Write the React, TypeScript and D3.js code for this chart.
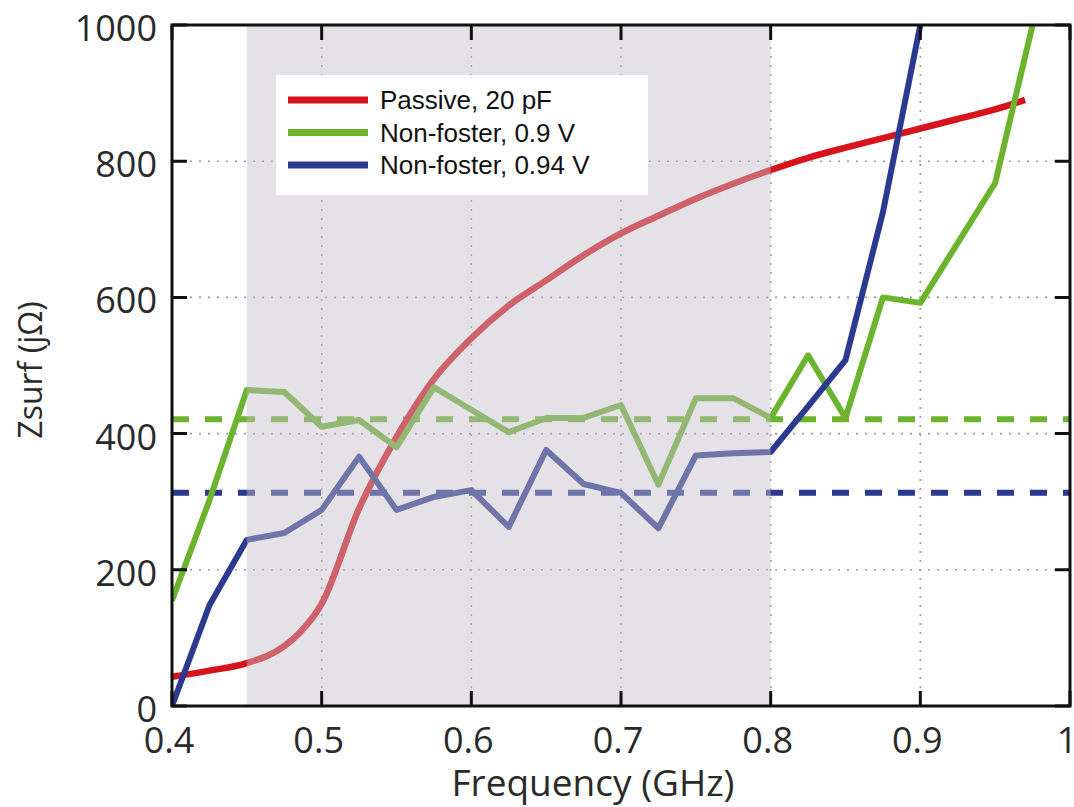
import React, { useRef, useEffect } from 'react'
import * as d3 from 'd3'

// data
const freqStep = [
  0.4, 0.425, 0.45, 0.475, 0.5, 0.525, 0.55, 0.575, 0.6, 0.625, 0.65, 0.675,
  0.7, 0.725, 0.75, 0.775, 0.8, 0.825, 0.85, 0.875, 0.9, 0.925, 0.95, 0.975,
]
const greenVals = [
  155, 302, 464, 461, 410, 420, 380, 468, 435, 402, 423, 423, 442, 325, 452,
  452, 423, 515, 423, 600, 592, 680, 768, 1000,
]
const blueVals = [
  0, 148, 244, 254, 288, 366, 288, 307, 317, 263, 376, 326, 313, 261, 368, 371,
  373, 440, 508, 725, 1000,
]
const redFreq = [
  0.4, 0.425, 0.45, 0.475, 0.485, 0.5, 0.525, 0.55, 0.575, 0.6, 0.625, 0.65,
  0.675, 0.7, 0.725, 0.75, 0.775, 0.8, 0.825, 0.85, 0.875, 0.9, 0.925, 0.95,
  0.97,
]
const redVals = [
  43, 52, 63, 88, 107, 150, 290, 395, 480, 540, 588, 625, 662, 694, 720, 745,
  767, 787, 805, 820, 834, 848, 862, 876, 890,
]
const greenMean = 421
const blueMean = 313
const band = [0.45, 0.8]
const xTicks = [0.4, 0.5, 0.6, 0.7, 0.8, 0.9, 1]
const yTicks = [0, 200, 400, 600, 800, 1000]
const legendItems = [
  { label: 'Passive, 20 pF', color: '#d7141d' },
  { label: 'Non-foster, 0.9 V', color: '#6cb32e' },
  { label: 'Non-foster, 0.94 V', color: '#2c3990' },
]

export default function App() {
  const svgRef = useRef(null)

  useEffect(() => {
    const svg = d3.select(svgRef.current)
    svg.selectAll('*').remove()

    const x = d3.scaleLinear().domain([0.4, 1]).range([172, 1070])
    const y = d3.scaleLinear().domain([0, 1000]).range([706, 25])
    const font = "'Open Sans', sans-serif"

    svg.append('defs').append('clipPath').attr('id', 'plotclip')
      .append('rect')
      .attr('x', x(0.4)).attr('y', y(1000))
      .attr('width', x(1) - x(0.4)).attr('height', y(0) - y(1000))

    svg.append('rect').attr('width', 1074).attr('height', 807).attr('fill', '#fff')

    // grid
    const grid = svg.append('g')
    grid.selectAll('.vg')
      .data(xTicks.slice(1, -1))
      .join('line')
      .attr('x1', (d) => x(d)).attr('x2', (d) => x(d))
      .attr('y1', y(0)).attr('y2', y(1000))
      .attr('stroke', '#9a9a9a').attr('stroke-width', 1.6)
      .attr('stroke-dasharray', '2,7')
    grid.selectAll('.hg')
      .data(yTicks.slice(1, -1))
      .join('line')
      .attr('y1', (d) => y(d)).attr('y2', (d) => y(d))
      .attr('x1', x(0.4)).attr('x2', x(1))
      .attr('stroke', '#9a9a9a').attr('stroke-width', 1.6)
      .attr('stroke-dasharray', '2,7')

    const plot = svg.append('g').attr('clip-path', 'url(#plotclip)')

    // dashed mean lines
    plot.append('line')
      .attr('x1', x(0.4)).attr('x2', x(1))
      .attr('y1', y(greenMean)).attr('y2', y(greenMean))
      .attr('stroke', legendItems[1].color).attr('stroke-width', 6)
      .attr('stroke-dasharray', '17,16')
    plot.append('line')
      .attr('x1', x(0.4)).attr('x2', x(1))
      .attr('y1', y(blueMean)).attr('y2', y(blueMean))
      .attr('stroke', legendItems[2].color).attr('stroke-width', 6)
      .attr('stroke-dasharray', '17,16')

    const line = d3.line().x((d) => x(d[0])).y((d) => y(d[1]))
    const smooth = d3.line().x((d) => x(d[0])).y((d) => y(d[1])).curve(d3.curveMonotoneX)

    plot.append('path')
      .attr('d', smooth(redFreq.map((f, i) => [f, redVals[i]])))
      .attr('fill', 'none').attr('stroke', legendItems[0].color)
      .attr('stroke-width', 6.5).attr('stroke-linejoin', 'round')
    plot.append('path')
      .attr('d', line(greenVals.map((v, i) => [freqStep[i], v])))
      .attr('fill', 'none').attr('stroke', legendItems[1].color)
      .attr('stroke-width', 6).attr('stroke-linejoin', 'round')
    plot.append('path')
      .attr('d', line(blueVals.map((v, i) => [freqStep[i], v])))
      .attr('fill', 'none').attr('stroke', legendItems[2].color)
      .attr('stroke-width', 6).attr('stroke-linejoin', 'round')

    // shaded band drawn over the lines
    svg.append('rect')
      .attr('x', x(band[0])).attr('y', y(1000))
      .attr('width', x(band[1]) - x(band[0])).attr('height', y(0) - y(1000))
      .attr('fill', '#c4bfc8').attr('opacity', 0.45)

    // legend
    const lg = svg.append('g')
    lg.append('rect')
      .attr('x', 276).attr('y', 75).attr('width', 372).attr('height', 120)
      .attr('fill', '#fff')
    legendItems.forEach((it, i) => {
      const cy = 100 + i * 32.5
      lg.append('line')
        .attr('x1', 288).attr('x2', 368).attr('y1', cy).attr('y2', cy)
        .attr('stroke', it.color).attr('stroke-width', 7)
      lg.append('text')
        .attr('x', 380).attr('y', cy + 9)
        .attr('font-family', "'Liberation Sans', Arial, sans-serif")
        .attr('font-size', 26).attr('fill', '#111')
        .text(it.label)
    })

    // axes box and ticks
    const ax = svg.append('g').attr('stroke', '#111').attr('stroke-width', 3)
    ax.append('rect')
      .attr('x', x(0.4)).attr('y', y(1000))
      .attr('width', x(1) - x(0.4)).attr('height', y(0) - y(1000))
      .attr('fill', 'none')
    ax.selectAll('.xt')
      .data(xTicks)
      .join('path')
      .attr('d', (d) => `M${x(d)},${y(0)}v-15M${x(d)},${y(1000)}v15`)
    ax.selectAll('.yt')
      .data(yTicks)
      .join('path')
      .attr('d', (d) => `M${x(0.4)},${y(d)}h15M${x(1)},${y(d)}h-15`)

    svg.append('g').selectAll('text')
      .data(xTicks)
      .join('text')
      .attr('x', (d) => x(d) - 3).attr('y', 753)
      .attr('text-anchor', 'middle')
      .attr('font-family', font).attr('font-size', 36).attr('fill', '#2a2a2a')
      .text((d) => String(d))
    svg.append('g').selectAll('text')
      .data(yTicks)
      .join('text')
      .attr('x', 157).attr('y', (d) => y(d) + 16)
      .attr('text-anchor', 'end')
      .attr('font-family', font).attr('font-size', 36).attr('fill', '#2a2a2a')
      .text((d) => String(d))

    svg.append('text')
      .attr('x', 593).attr('y', 796)
      .attr('text-anchor', 'middle')
      .attr('font-family', font).attr('font-size', 37).attr('fill', '#2a2a2a')
      .text('Frequency (GHz)')
    svg.append('text')
      .attr('transform', 'translate(42,370) rotate(-90)')
      .attr('text-anchor', 'middle')
      .attr('font-family', font).attr('font-size', 32).attr('fill', '#2a2a2a')
      .text('Zsurf (jΩ)')
  }, [])

  return (
    <svg
      ref={svgRef}
      width={1074}
      height={807}
      style={{ position: 'absolute', left: 0, top: 0 }}
    />
  )
}
